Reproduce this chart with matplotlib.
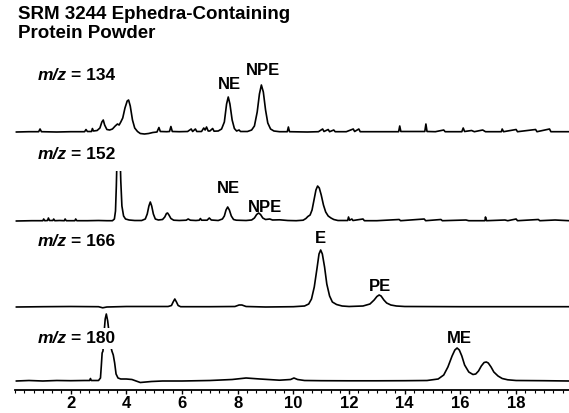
import numpy as np
import matplotlib.pyplot as plt
from matplotlib.patches import Rectangle
from matplotlib.ticker import MultipleLocator

plt.rcParams['font.family'] = ['Liberation Sans', 'DejaVu Sans']
plt.rcParams['font.weight'] = 'bold'

# ion chromatograms: (retention time / min, signal)
mz134 = [(0.05, 0), (0.5, 0.3), (0.85, 0.3), (0.9, 3), (0.95, 0.3), (1.5, 0), (2.0, 0.3),
         (2.5, 0.3), (2.55, 2.5), (2.6, 0.5), (2.75, 0.5), (2.78, 3.5), (2.82, 1), (2.95, 1.5),
         (3.05, 4), (3.12, 10), (3.17, 12), (3.22, 7), (3.3, 2.5), (3.4, 2), (3.5, 3), (3.6, 6),
         (3.68, 8), (3.74, 7), (3.8, 10), (3.87, 14), (3.95, 24), (4.03, 31), (4.08, 32),
         (4.14, 26), (4.22, 12), (4.3, 4), (4.4, 0.5), (4.5, -1.5), (4.65, -2), (4.8, -1.5),
         (4.95, -0.5), (5.1, 0), (5.17, 4.5), (5.22, 0.5), (5.45, 0.3), (5.55, 0.5), (5.6, 5.5),
         (5.65, 0.5), (5.9, 0.3), (6.2, 0.5), (6.33, 3), (6.38, 0.5), (6.48, 3), (6.53, 0.5),
         (6.7, 0.5), (6.78, 4), (6.83, 2), (6.88, 5), (6.94, 1), (7.0, 1), (7.1, 3.5), (7.15, 0.8),
         (7.3, 1), (7.42, 3), (7.52, 10), (7.6, 28), (7.66, 35), (7.72, 28), (7.8, 12), (7.88, 3.5),
         (7.96, 1), (8.05, 2), (8.1, 0.5), (8.35, 0.5), (8.5, 2), (8.6, 6), (8.7, 20), (8.78, 38),
         (8.85, 47), (8.92, 40), (9.0, 22), (9.08, 9), (9.18, 3), (9.3, 1), (9.5, 0.3), (9.78, 0.3),
         (9.82, 5), (9.86, 0.3), (10.5, 0), (10.9, 0.3), (11.05, 3), (11.1, 0.5), (11.25, 2.5),
         (11.3, 0.3), (11.45, 2), (11.5, 0.3), (11.9, 0.3), (12.15, 3), (12.2, 0.5), (12.35, 3),
         (12.4, 0.3), (13.0, 0.3), (13.78, 0.3), (13.82, 6), (13.86, 0.5), (14.2, 0.5), (14.72, 0.5),
         (14.76, 8), (14.8, 0.5), (15.1, 0.3), (15.4, 2), (15.45, 0.3), (16.05, 0.3), (16.1, 4),
         (16.15, 0.5), (16.4, 1.5), (16.5, 0.3), (16.8, 2), (16.9, 0.3), (17.47, 0.3), (17.5, 3),
         (17.55, 0.3), (18.0, 2.5), (18.05, 0.3), (18.7, 2.5), (18.75, 0.3), (19.2, 3), (19.25, 0.3),
         (19.9, 0.3)]

mz152 = [(0.05, 0), (0.6, 0.3), (1.0, 0.3), (1.03, 2), (1.07, 0.3), (1.17, 0.5), (1.2, 3), (1.24, 0.5),
         (1.36, 0.5), (1.39, 2), (1.43, 0.3), (1.6, 0.5), (1.77, 0.3), (1.8, 2), (1.84, 0.3),
         (2.15, 0.3), (2.18, 2), (2.22, 0.3), (2.6, 0.3), (3.0, 0.5), (3.3, 0.3), (3.5, 0.3),
         (3.57, 2), (3.61, 10), (3.64, 35), (3.67, 70), (3.72, 95), (3.77, 70), (3.8, 40), (3.84, 15),
         (3.9, 5), (3.97, 2), (4.1, 1), (4.3, 0.5), (4.55, 0.5), (4.68, 2), (4.75, 7), (4.81, 15),
         (4.86, 19), (4.91, 15), (4.97, 7), (5.04, 2), (5.15, 1), (5.3, 1.5), (5.38, 4), (5.44, 7.5),
         (5.48, 8), (5.53, 6), (5.6, 2.5), (5.7, 0.8), (5.9, 0.5), (6.15, 0.8), (6.22, 2), (6.3, 0.8),
         (6.5, 0.5), (6.62, 0.8), (6.66, 2.5), (6.7, 0.8), (6.9, 0.8), (6.98, 3), (7.05, 1), (7.3, 0.5),
         (7.45, 2), (7.52, 5), (7.58, 11), (7.64, 14), (7.7, 11), (7.77, 5), (7.85, 1.5), (7.95, 0.8),
         (8.3, 0.5), (8.5, 1), (8.6, 3), (8.68, 6.5), (8.75, 8), (8.82, 6.5), (8.9, 3), (9.0, 1.5),
         (9.15, 2), (9.25, 1), (9.5, 1.2), (9.8, 0.5), (10.1, 0.3), (10.35, 0.8), (10.45, 2.5),
         (10.52, 4.5), (10.6, 6), (10.67, 11), (10.74, 21), (10.81, 31), (10.87, 35), (10.93, 33),
         (11.0, 26), (11.08, 16), (11.16, 9), (11.25, 5), (11.35, 3), (11.45, 1.5), (11.6, 0.5),
         (11.95, 0.5), (11.98, 4), (12.02, 0.8), (12.1, 2), (12.14, 0.5), (12.5, 2), (12.55, 0.3),
         (13.0, 0.3), (13.8, 1.5), (13.85, 0.3), (14.7, 2), (14.75, 0.3), (15.3, 1.5), (15.35, 0.3),
         (16.2, 1), (16.3, 0.3), (16.88, 0.3), (16.9, 4), (16.94, 0.3), (17.6, 1), (17.7, 0.3),
         (18.0, 2), (18.05, 0.3), (18.8, 1.5), (18.85, 0.3), (19.4, 1), (19.9, 0.3)]

mz166 = [(0.05, 0), (1.0, 0.3), (2.0, 0.5), (3.0, 0.3), (3.15, -0.8), (3.3, 0), (4.0, 0.5), (5.0, 0.5),
         (5.5, 0.5), (5.62, 1.5), (5.68, 5), (5.74, 8), (5.8, 5), (5.86, 1.5), (5.95, 0.3), (7.0, 0.3),
         (7.9, 0.5), (8.05, 2), (8.15, 2), (8.3, 0.5), (9.0, 0), (10.0, 0.3), (10.4, 1), (10.55, 3),
         (10.65, 8), (10.75, 20), (10.85, 39), (10.92, 53), (10.98, 57), (11.04, 53), (11.12, 40),
         (11.2, 23), (11.3, 11), (11.4, 5), (11.55, 2.5), (11.75, 1), (12.0, 0.5), (12.5, 1),
         (12.75, 3), (12.9, 7), (13.0, 10.5), (13.08, 12), (13.15, 11), (13.25, 7), (13.35, 4),
         (13.5, 2), (13.7, 1), (14.0, 0.5), (16.0, 0.3), (19.9, 0.3)]

mz180 = [(0.05, 0), (0.5, 0.5), (1.0, 0), (1.5, 0.5), (2.0, 0.3), (2.5, 0.5), (2.68, 0.5), (2.71, 2.5),
         (2.74, 0.5), (3.0, 0.5), (3.07, 3), (3.1, 15), (3.13, 28), (3.16, 30), (3.19, 45), (3.24, 62),
         (3.28, 67), (3.33, 60), (3.38, 48), (3.43, 36), (3.48, 30), (3.53, 26), (3.58, 18), (3.63, 7),
         (3.7, 3), (3.8, 2), (4.0, 2), (4.2, 1.5), (4.35, 0), (4.5, -1.5), (4.7, -1), (4.9, -0.5),
         (5.3, 0), (6.0, 0), (7.0, 0.5), (7.8, 1.5), (8.3, 3), (8.8, 2), (9.5, 0.8), (9.9, 1.5),
         (10.02, 3), (10.15, 1.5), (10.4, 0.5), (11.0, 0.3), (12.0, 0.2), (13.0, 0.2), (14.0, 0.3),
         (14.8, 0.5), (15.2, 2), (15.4, 6), (15.55, 14), (15.7, 25), (15.8, 31), (15.88, 33),
         (15.96, 31), (16.05, 25), (16.15, 16), (16.3, 9), (16.45, 6.5), (16.55, 7), (16.65, 10),
         (16.75, 15), (16.85, 18.5), (16.93, 19), (17.0, 18), (17.1, 14), (17.2, 9), (17.35, 5),
         (17.5, 2.5), (17.7, 1.2), (18.0, 0.5), (19.0, 0.3), (19.9, 0)]

ions = ['134', '152', '166', '180']
traces = [mz134, mz152, mz166, mz180]
# peak names with retention times
peaks = [[('NE', 7.66), ('NPE', 8.85)],
         [('NE', 7.64), ('NPE', 8.75)],
         [('E', 10.98), ('PE', 13.08)],
         [('ME', 15.88)]]

# layout (pixels)
offsets = [258, 169, 83, 9]          # baseline height above the time axis
label_rise = [52, 62, 61, 38]        # m/z label baseline above trace baseline
peak_shift = [[(1, 8), (2, 10)], [(1, 14), (6, 1)], [(0, 7), (1, 4)], [(2, 5)]]
clip_top = [None, 50, None, None]

fig = plt.figure(figsize=(5.69, 4.13), dpi=100)
ax = fig.add_axes([15 / 569, 23 / 413, 554 / 569, 390 / 413])
ax.set_xlim(0, 19.9)
ax.set_ylim(0, 390)

for k, tr in enumerate(traces):
    t, s = np.array(tr).T
    base = offsets[k]
    line, = ax.plot(t, s + base, color='black', lw=1.2, zorder=2)
    if clip_top[k] is not None:
        rect = Rectangle((0, base - 20), 20, clip_top[k] + 20, transform=ax.transData)
        line.set_clip_path(rect)
    for (name, rt), (dx, gap) in zip(peaks[k], peak_shift[k]):
        ax.annotate(name, xy=(rt, base + np.interp(rt, t, s)), xytext=(dx, gap),
                    textcoords='offset pixels', ha='center', va='baseline',
                    fontsize=12, fontweight='bold')
    box = dict(facecolor='white', edgecolor='none', pad=2) if k == 3 else None
    lab = ax.text(0.82, base + label_rise[k], 'm/z', fontsize=12.5, fontweight='bold',
                  style='italic', ha='left', va='baseline', bbox=box, zorder=3)
    ax.annotate('= ' + ions[k], xy=(1, 0), xycoords=lab, xytext=(4, 0),
                textcoords='offset pixels', va='bottom', ha='left',
                fontsize=12.5, fontweight='bold', bbox=box, zorder=3)

for side in ['left', 'right', 'top']:
    ax.spines[side].set_visible(False)
ax.spines['bottom'].set_linewidth(1.3)
ax.set_yticks([])
ax.xaxis.set_minor_locator(MultipleLocator(1 / 3))
ax.set_xticks(np.arange(2, 19, 2))
ax.tick_params(axis='x', which='major', length=3, width=1, labelsize=12, pad=1.5)
ax.tick_params(axis='x', which='minor', length=2, width=0.8)
for lbl in ax.get_xticklabels():
    lbl.set_fontweight('bold')

fig.text(18 / 569, 1 - 19 / 413, 'SRM 3244 Ephedra-Containing', fontsize=13.5, fontweight='bold',
         ha='left', va='baseline')
fig.text(18 / 569, 1 - 38 / 413, 'Protein Powder', fontsize=13.5, fontweight='bold',
         ha='left', va='baseline')

fig.savefig('out.png', dpi=100)
